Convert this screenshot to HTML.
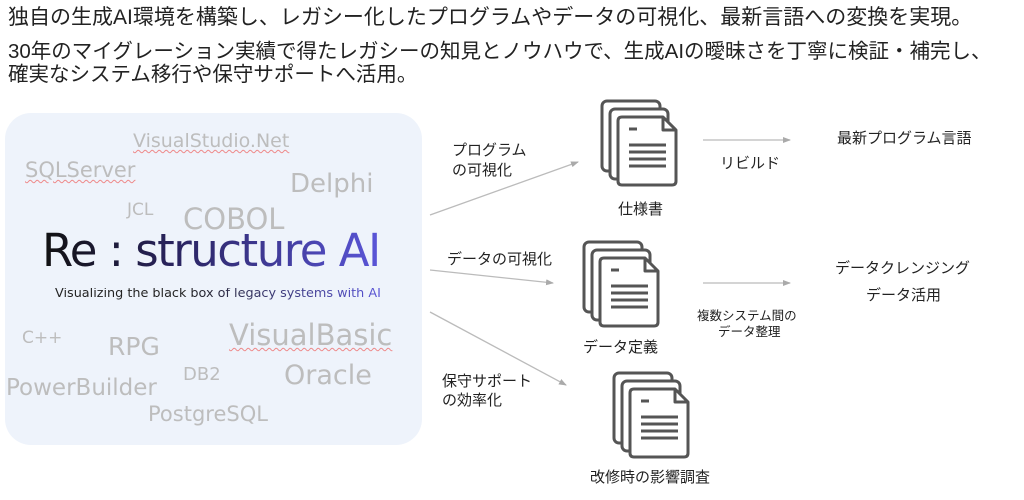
<!DOCTYPE html>
<html><head><meta charset="utf-8"><style>
body{margin:0;width:1024px;height:500px;background:#fff;position:relative;overflow:hidden;font-family:"Liberation Sans","Noto Sans CJK JP",sans-serif;color:#222}
.a{position:absolute;white-space:nowrap;line-height:1}
.g{color:#bdbdbd;font-family:"DejaVu Sans","Liberation Sans",sans-serif}
.u{text-decoration:underline wavy #e88;text-decoration-thickness:1px;text-underline-offset:2px}
.box{position:absolute;left:5px;top:113px;width:417px;height:332px;background:#eef3fb;border-radius:26px}
.lb{font-size:15px;color:#222}
</style></head><body>
<div class="a" style="left:8px;top:7px;font-size:21px">独自の生成AI環境を構築し、レガシー化したプログラムやデータの可視化、最新言語への変換を実現。</div>
<div class="a" style="left:8px;top:42px;font-size:20.5px">30年のマイグレーション実績で得たレガシーの知見とノウハウで、生成AIの曖昧さを丁寧に検証・補完し、</div>
<div class="a" style="left:8px;top:65px;font-size:20.5px">確実なシステム移行や保守サポートへ活用。</div>

<div class="box"></div>
<div class="a g u" style="left:133px;top:132px;font-size:19px">VisualStudio.Net</div>
<div class="a g u" style="left:25px;top:160px;font-size:21px">SQLServer</div>
<div class="a g" style="left:290px;top:171px;font-size:26px">Delphi</div>
<div class="a g" style="left:127px;top:202px;font-size:17px">JCL</div>
<div class="a g" style="left:183px;top:205px;font-size:29px">COBOL</div>
<div class="a" style="left:42px;top:228px;font-size:45px;font-family:'DejaVu Sans',sans-serif;letter-spacing:-1.5px;background:linear-gradient(90deg,#111 0%,#2a2460 40%,#5a55d8 100%);-webkit-background-clip:text;background-clip:text;color:transparent">Re : structure AI</div>
<div class="a" style="left:55px;top:288px;font-size:12.8px;font-family:'DejaVu Sans',sans-serif;background:linear-gradient(90deg,#222 40%,#5a55d8 100%);-webkit-background-clip:text;background-clip:text;color:transparent">Visualizing the black box of legacy systems with AI</div>
<div class="a g" style="left:22px;top:330px;font-size:17px">C++</div>
<div class="a g" style="left:108px;top:334px;font-size:25px">RPG</div>
<div class="a g u" style="left:229px;top:321px;font-size:29px">VisualBasic</div>
<div class="a g" style="left:183px;top:366px;font-size:18px">DB2</div>
<div class="a g" style="left:284px;top:362px;font-size:27px">Oracle</div>
<div class="a g" style="left:6px;top:377px;font-size:23px">PowerBuilder</div>
<div class="a g" style="left:148px;top:404px;font-size:21px">PostgreSQL</div>

<svg width="1024" height="500" style="position:absolute;left:0;top:0">
<defs><marker id="m" markerWidth="8" markerHeight="8" refX="7" refY="4" orient="auto" markerUnits="userSpaceOnUse"><path d="M0,1 L8,4 L0,7z" fill="#aaa"/></marker>
<g id="d" fill="#fff" stroke="#555" stroke-width="3" stroke-linejoin="round">
<rect x="2" y="2" width="58" height="70" rx="5"/>
<rect x="10" y="10" width="58" height="70" rx="5"/>
<path d="M22,18 H63 L76,31 V82 Q76,86 72,86 H22 Q18,86 18,82 V22 Q18,18 22,18z"/>
<path d="M63,18 V31 H76" fill="none"/>
<path d="M29,30 H37 M29,46 H66 M29,53 H66 M29,60 H66 M29,67 H66" fill="none"/>
</g></defs>
<g stroke="#bbb" stroke-width="1.3" fill="none" marker-end="url(#m)">
<line x1="430" y1="215" x2="578" y2="162"/>
<line x1="430" y1="270" x2="553" y2="283"/>
<line x1="430" y1="312" x2="566" y2="385"/>
<line x1="703" y1="140" x2="790" y2="140"/>
<line x1="703" y1="283" x2="790" y2="283"/>
</g>
<use href="#d" x="600" y="99"/>
<use href="#d" x="582" y="240"/>
<use href="#d" x="612" y="371"/>
</svg>

<div class="a lb" style="left:452px;top:143px">プログラム</div>
<div class="a lb" style="left:452px;top:163px">の可視化</div>
<div class="a lb" style="left:447px;top:252px">データの可視化</div>
<div class="a lb" style="left:442px;top:374px">保守サポート</div>
<div class="a lb" style="left:442px;top:393px">の効率化</div>
<div class="a lb" style="left:618px;top:202px">仕様書</div>
<div class="a lb" style="left:583px;top:340px">データ定義</div>
<div class="a lb" style="left:590px;top:470px">改修時の影響調査</div>
<div class="a lb" style="left:720px;top:156px">リビルド</div>
<div class="a lb" style="left:837px;top:131px">最新プログラム言語</div>
<div class="a lb" style="left:835px;top:261px">データクレンジング</div>
<div class="a lb" style="left:866px;top:288px">データ活用</div>
<div class="a" style="left:697px;top:310px;font-size:12.5px">複数システム間の</div>
<div class="a" style="left:718px;top:326px;font-size:12.5px">データ整理</div>
</body></html>
